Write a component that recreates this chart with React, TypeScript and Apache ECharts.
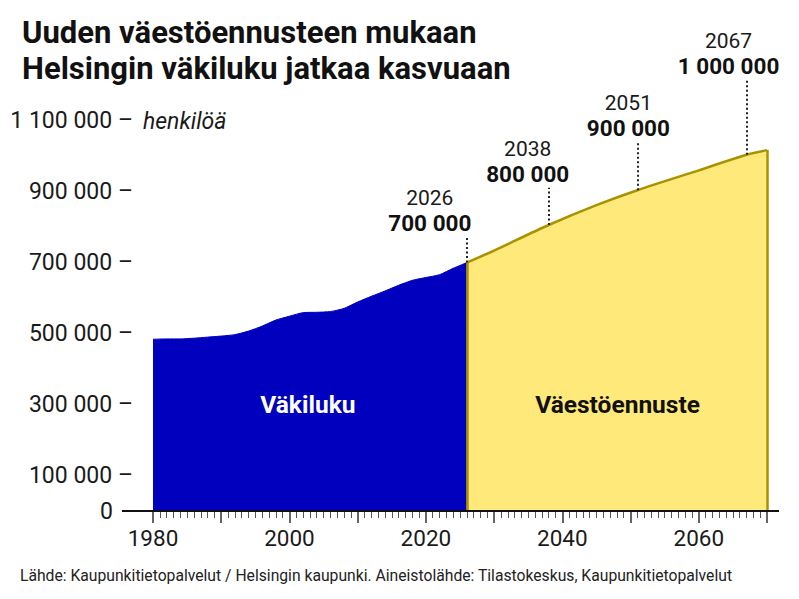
import React, { useEffect, useRef } from "react";
import * as echarts from "echarts";

const FONT = "Roboto, 'Noto Sans', sans-serif";

const titleText = "Uuden väestöennusteen mukaan\nHelsingin väkiluku jatkaa kasvuaan";
const unitText = "henkilöä";
const footerText =
  "Lähde: Kaupunkitietopalvelut / Helsingin kaupunki. Aineistolähde: Tilastokeskus, Kaupunkitietopalvelut";

// Historical population (Väkiluku)
const histYears = [
  1980, 1982, 1984, 1986, 1988, 1990, 1992, 1994, 1996, 1998, 2000, 2002, 2004,
  2006, 2008, 2010, 2012, 2014, 2016, 2018, 2020, 2022, 2024, 2025, 2026,
];
const histValues = [
  484000, 485000, 485000, 487000, 490000, 493000, 497000, 507000, 521000, 538000,
  549000, 559000, 560000, 562000, 571000, 589000, 605000, 620000, 636000, 650000,
  658000, 666000, 684000, 692000, 700000,
];

// Forecast (Väestöennuste)
const fcYears = [2026, 2030, 2038, 2045, 2051, 2060, 2067, 2070];
const fcValues = [700000, 734000, 806000, 862000, 904000, 960000, 1004000, 1017000];

// Annotations
const annoYears = [2026, 2038, 2051, 2067];
const annoLabels = ["700 000", "800 000", "900 000", "1 000 000"];
const annoTops = [773000, 911000, 1041000, 1216000];
const annoDx = [-37, -21, -9, -18];

// Axis labels
const yTickValues = [0, 100000, 300000, 500000, 700000, 900000, 1100000];
const xLabelYears = [1980, 2000, 2020, 2040, 2060];

const seriesNames = ["Väkiluku", "Väestöennuste"];
const histLabelPos = [2002.7, 301000];
const fcLabelPos = [2048.1, 301000];

const BLUE = "#0000BE";
const YELLOW = "#FFE97A";
const OLIVE = "#A89200";
const TEXT = "#1a1a1a";

const fmt = (v: number) => String(v).replace(/\B(?=(\d{3})+(?!\d))/g, " ");

export default function App() {
  const ref = useRef<HTMLDivElement>(null);

  useEffect(() => {
    document.body.style.margin = "0";
    if (!ref.current) return;
    const chart = echarts.init(ref.current, null, { renderer: "svg" });

    const histData = histYears.map((y, i) => [y, histValues[i]]);
    const fcData = fcYears.map((y, i) => [y, fcValues[i]]);
    const firstFc = fcYears[0];
    const lastFc = fcYears[fcYears.length - 1];
    const valueAt = (year: number) => {
      const i = fcYears.indexOf(year);
      return i >= 0 ? fcValues[i] : fcValues[0];
    };

    const option: any = {
      animation: false,
      textStyle: { fontFamily: FONT },
      title: {
        text: titleText,
        left: 17,
        top: 9,
        textStyle: {
          fontFamily: FONT,
          fontSize: 31,
          fontWeight: "bold",
          lineHeight: 36,
          color: "#111",
        },
      },
      grid: { left: 153, right: 32, top: 49.7, bottom: 88 },
      xAxis: {
        type: "value",
        min: 1980,
        max: 2070,
        interval: 10,
        axisLine: { show: false },
        axisTick: { show: true, length: 12, lineStyle: { color: "#333", width: 1.5 } },
        minorTick: { show: true, splitNumber: 10, length: 7, lineStyle: { color: "#555", width: 1 } },
        splitLine: { show: false },
        minorSplitLine: { show: false },
        axisLabel: {
          margin: 15,
          fontSize: 22.5,
          fontFamily: FONT,
          color: TEXT,
          formatter: (v: number) => (xLabelYears.includes(v) ? String(v) : ""),
        },
      },
      yAxis: {
        type: "value",
        min: 0,
        max: 1300000,
        interval: 100000,
        axisLine: { show: false },
        axisTick: { show: false },
        splitLine: { show: false },
        axisLabel: {
          margin: 20,
          fontSize: 23,
          fontFamily: FONT,
          color: TEXT,
          formatter: (v: number) => {
            if (!yTickValues.includes(v)) return "";
            if (v === 0) return "{z|0}";
            return fmt(v) + " –";
          },
          rich: {
            z: { fontSize: 23, fontFamily: FONT, color: TEXT, padding: [0, 20, 0, 0] },
          },
        },
      },
      series: [
        {
          name: seriesNames[0],
          type: "line",
          data: histData,
          showSymbol: false,
          smooth: 0.2,
          lineStyle: { color: BLUE, width: 1 },
          areaStyle: { color: BLUE, opacity: 1 },
          silent: true,
          z: 2,
          markPoint: {
            symbol: "circle",
            symbolSize: 1,
            itemStyle: { color: "rgba(0,0,0,0)" },
            silent: true,
            label: {
              show: true,
              position: "inside",
              fontFamily: FONT,
              fontSize: 24.5,
              fontWeight: "bold",
              color: "#fff",
              formatter: () => seriesNames[0],
            },
            data: [{ coord: histLabelPos }],
          },
        },
        {
          name: seriesNames[1],
          type: "line",
          data: fcData,
          showSymbol: false,
          smooth: 0.3,
          clip: false,
          lineStyle: { color: OLIVE, width: 2.5 },
          areaStyle: { color: YELLOW, opacity: 1 },
          silent: true,
          z: 3,
          markLine: {
            silent: true,
            symbol: ["none", "none"],
            label: { show: false },
            lineStyle: { type: [2, 2.5], color: "#222", width: 2 },
            data: [
              [
                { coord: [firstFc, 0], lineStyle: { type: "solid", color: OLIVE, width: 2.5 } },
                { coord: [firstFc, fcValues[0]] },
              ],
              [
                { coord: [lastFc, 0], lineStyle: { type: "solid", color: OLIVE, width: 2.5 } },
                { coord: [lastFc, fcValues[fcValues.length - 1]] },
              ],
              ...annoYears.map((y, i) => [
                { coord: [y, valueAt(y)] },
                { coord: [y, annoTops[i]] },
              ]),
            ],
          },
          markPoint: {
            symbol: "circle",
            symbolSize: 1,
            itemStyle: { color: "rgba(0,0,0,0)" },
            silent: true,
            label: {
              show: true,
              position: "top",
              distance: 0,
              rich: {
                y: { fontFamily: FONT, fontSize: 21, color: TEXT, lineHeight: 25.5, align: "center" },
                v: { fontFamily: FONT, fontSize: 22.5, fontWeight: "bold", color: "#111", lineHeight: 25.5, align: "center" },
              },
            },
            data: [
              ...annoYears.map((y, i) => ({
                coord: [y, annoTops[i]],
                label: {
                  offset: [annoDx[i], 0],
                  formatter: () => `{y|${y}}\n{v|${annoLabels[i]}}`,
                },
              })),
              {
                coord: fcLabelPos,
                label: {
                  position: "inside",
                  fontFamily: FONT,
                  fontSize: 24.5,
                  fontWeight: "bold",
                  color: "#111",
                  formatter: () => seriesNames[1],
                },
              },
            ],
          },
        },
      ],
      graphic: [
        {
          type: "line",
          shape: { x1: 122, y1: 511, x2: 779, y2: 511 },
          style: { stroke: "#111", lineWidth: 2 },
          z: 100,
        },
        {
          type: "text",
          x: 143,
          y: 121,
          style: {
            text: unitText,
            fontFamily: FONT,
            fontSize: 23,
            fontStyle: "italic",
            fill: TEXT,
            verticalAlign: "middle",
          },
        },
        {
          type: "text",
          x: 20,
          y: 575,
          style: {
            text: footerText,
            fontFamily: FONT,
            fontSize: 15.7,
            fill: "#222",
            verticalAlign: "middle",
          },
        },
      ],
    };

    chart.setOption(option);
    return () => chart.dispose();
  }, []);

  return <div ref={ref} style={{ width: 799, height: 599, overflow: "hidden" }} />;
}
